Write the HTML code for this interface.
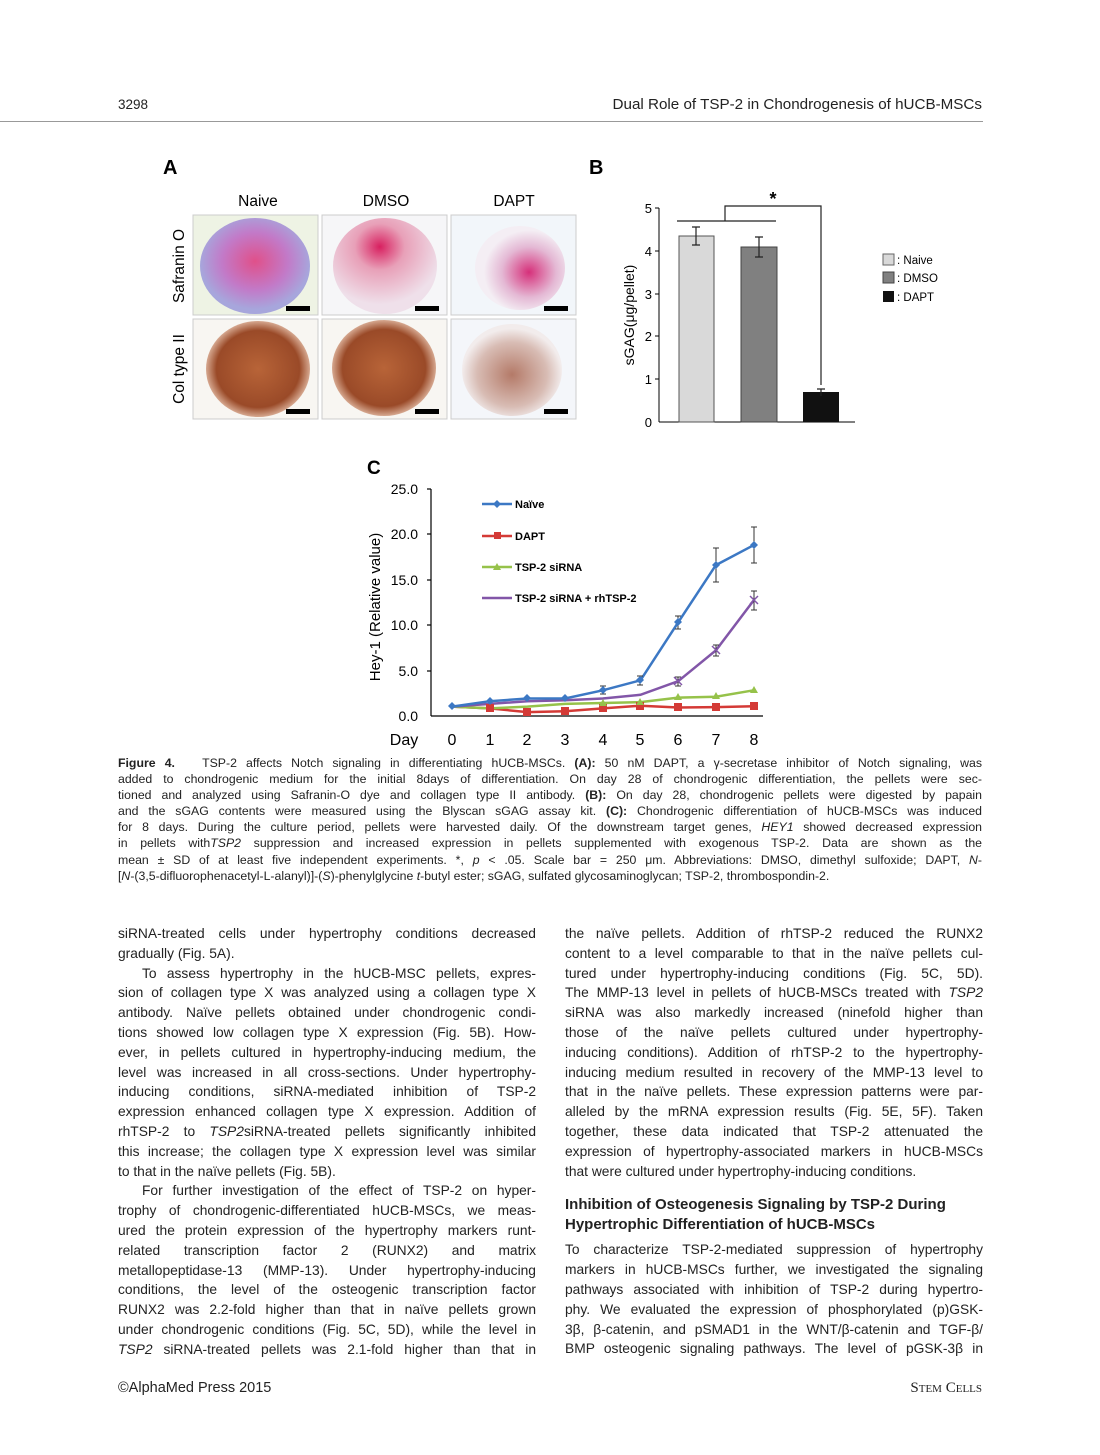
<!DOCTYPE html>
<html><head><meta charset="utf-8"><style>
body{margin:0;background:#fff;}
#p{position:relative;width:1100px;height:1455px;overflow:hidden;font-family:"Liberation Sans",sans-serif;color:#222;}
.t{position:absolute;white-space:nowrap;}
.cap{position:absolute;left:118px;width:864px;font-size:12.3px;line-height:16.1px;top:755px;}
.cap div,.col div{text-align:justify;text-align-last:justify;white-space:nowrap;}
.cap div.l,.col div.l{text-align-last:left;}
.col{position:absolute;width:418px;font-size:13.8px;line-height:19.8px;}
.col div.i{padding-left:24px;}
.h{font-weight:bold;font-size:15px;line-height:20px;}
</style></head><body><div id="p">
<div class="t" style="left:118px;top:97px;font-size:13.5px">3298</div>
<div class="t" style="right:118px;top:96px;font-size:15.2px">Dual Role of TSP-2 in Chondrogenesis of hUCB-MSCs</div>
<div style="position:absolute;left:0;top:121px;width:983px;height:1px;background:#999"></div>

<svg style="position:absolute;left:0;top:0" width="1100" height="760" font-family="Liberation Sans,sans-serif">
<defs>
<radialGradient id="saf1" cx="50%" cy="45%" r="50%"><stop offset="0" stop-color="#e0508a"/><stop offset="0.6" stop-color="#c27ac8"/><stop offset="1" stop-color="#a7a6dc"/></radialGradient>
<radialGradient id="saf2" cx="45%" cy="30%" r="60%"><stop offset="0" stop-color="#d82060"/><stop offset="0.4" stop-color="#e8a0b8"/><stop offset="1" stop-color="#efe0ea"/></radialGradient>
<radialGradient id="saf3" cx="60%" cy="55%" r="50%"><stop offset="0" stop-color="#d6307a"/><stop offset="0.6" stop-color="#e4b8d4"/><stop offset="1" stop-color="#f4eef4"/></radialGradient>
<radialGradient id="col1" cx="50%" cy="50%" r="50%"><stop offset="0" stop-color="#b86438"/><stop offset="0.8" stop-color="#9a4a28"/><stop offset="1" stop-color="#d6a890"/></radialGradient>
<radialGradient id="col3" cx="50%" cy="55%" r="50%"><stop offset="0" stop-color="#b47a68"/><stop offset="0.7" stop-color="#d8bcb4"/><stop offset="1" stop-color="#f2ecec"/></radialGradient>
</defs>
<text x="163" y="174" font-size="20" font-weight="bold">A</text>
<text x="589" y="174" font-size="20" font-weight="bold">B</text>
<text x="258" y="206" font-size="15.5" text-anchor="middle">Naive</text>
<text x="386" y="206" font-size="15.5" text-anchor="middle">DMSO</text>
<text x="514" y="206" font-size="15.5" text-anchor="middle">DAPT</text>
<text transform="translate(184,266) rotate(-90)" font-size="15.5" text-anchor="middle">Safranin O</text>
<text transform="translate(184,369) rotate(-90)" font-size="15.5" text-anchor="middle">Col type II</text>
<rect x="193" y="215" width="125" height="100" fill="#eef3e4" stroke="#ccc"/>
<rect x="322" y="215" width="125" height="100" fill="#f6f6f8" stroke="#ccc"/>
<rect x="451" y="215" width="125" height="100" fill="#f2f6fa" stroke="#ccc"/>
<rect x="193" y="319" width="125" height="100" fill="#f8f6f2" stroke="#ccc"/>
<rect x="322" y="319" width="125" height="100" fill="#f8f6f2" stroke="#ccc"/>
<rect x="451" y="319" width="125" height="100" fill="#f4f6fa" stroke="#ccc"/>
<ellipse cx="255" cy="266" rx="55" ry="48" fill="url(#saf1)"/>
<ellipse cx="385" cy="266" rx="52" ry="48" fill="url(#saf2)"/>
<ellipse cx="520" cy="268" rx="45" ry="42" fill="url(#saf3)"/>
<ellipse cx="258" cy="369" rx="52" ry="48" fill="url(#col1)"/>
<ellipse cx="384" cy="368" rx="52" ry="48" fill="url(#col1)"/>
<ellipse cx="512" cy="370" rx="50" ry="46" fill="url(#col3)"/>
<g fill="#000"><rect x="286" y="306" width="24" height="5"/><rect x="415" y="306" width="24" height="5"/><rect x="544" y="306" width="24" height="5"/>
<rect x="286" y="409" width="24" height="5"/><rect x="415" y="409" width="24" height="5"/><rect x="544" y="409" width="24" height="5"/></g>
<g font-size="13" text-anchor="end"><text x="652" y="213">5</text><text x="652" y="256">4</text><text x="652" y="299">3</text><text x="652" y="341">2</text><text x="652" y="384">1</text><text x="652" y="427">0</text></g>
<text transform="translate(634,315) rotate(-90)" font-size="14" text-anchor="middle">sGAG(μg/pellet)</text>
<g stroke="#000" stroke-width="1"><line x1="659" y1="208" x2="659" y2="422"/><line x1="659" y1="422" x2="855" y2="422"/>
<line x1="655" y1="208" x2="659" y2="208"/><line x1="655" y1="251" x2="659" y2="251"/><line x1="655" y1="294" x2="659" y2="294"/><line x1="655" y1="336" x2="659" y2="336"/><line x1="655" y1="379" x2="659" y2="379"/></g>
<rect x="679" y="236" width="35" height="186" fill="#d9d9d9" stroke="#555"/>
<rect x="741" y="247" width="36" height="175" fill="#808080" stroke="#444"/>
<rect x="803" y="392" width="36" height="30" fill="#111"/>
<g stroke="#222" stroke-width="1.2" fill="none"><path d="M696 227V245M692 227h8M692 245h8"/><path d="M759 237V257M755 237h8M755 257h8"/><path d="M821 389V396M817 389h8"/>
<path d="M677 221H776M725 221V206H821V385"/></g>
<text x="773" y="205" font-size="18" font-weight="bold" text-anchor="middle">*</text>
<g font-size="11.5"><rect x="883" y="254" width="11" height="11" fill="#d9d9d9" stroke="#666"/><text x="897" y="264">: Naive</text>
<rect x="883" y="272" width="11" height="11" fill="#808080" stroke="#444"/><text x="897" y="282">: DMSO</text>
<rect x="883" y="291" width="11" height="11" fill="#111"/><text x="897" y="301">: DAPT</text></g>
<text x="367" y="474" font-size="19" font-weight="bold">C</text>
<g font-size="14" text-anchor="end"><text x="418" y="494">25.0</text><text x="418" y="539">20.0</text><text x="418" y="585">15.0</text><text x="418" y="630">10.0</text><text x="418" y="676">5.0</text><text x="418" y="721">0.0</text></g>
<text transform="translate(380,607) rotate(-90)" font-size="15" text-anchor="middle">Hey-1 (Relative value)</text>
<g stroke="#000" stroke-width="1.2"><line x1="431" y1="489" x2="431" y2="716"/><line x1="431" y1="716" x2="763" y2="716"/>
<line x1="427" y1="489" x2="431" y2="489"/><line x1="427" y1="534" x2="431" y2="534"/><line x1="427" y1="580" x2="431" y2="580"/><line x1="427" y1="625" x2="431" y2="625"/><line x1="427" y1="671" x2="431" y2="671"/></g>
<g font-size="16" text-anchor="middle"><text x="404" y="745">Day</text><text x="452" y="745">0</text><text x="490" y="745">1</text><text x="527" y="745">2</text><text x="565" y="745">3</text><text x="603" y="745">4</text><text x="640" y="745">5</text><text x="678" y="745">6</text><text x="716" y="745">7</text><text x="754" y="745">8</text></g>
<g fill="none" stroke-width="2.5">
<polyline stroke="#d43a36" points="452,706.6 489.7,708.4 527.4,712.1 565.1,711.2 602.8,708.4 640.5,705.7 678.2,707.5 715.9,707.1 753.6,706.2"/>
<polyline stroke="#96c24a" points="452,706.6 489.7,708.4 527.4,706.6 565.1,703.9 602.8,703 640.5,702.1 678.2,697.6 715.9,696.7 753.6,690.3"/>
<polyline stroke="#8256a8" points="452,706.6 489.7,703.9 527.4,701.2 565.1,700.3 602.8,698.5 640.5,694.8 678.2,681.2 715.9,650.4 753.6,600.5"/>
<polyline stroke="#3c78c4" points="452,706.6 489.7,701.2 527.4,698.5 565.1,698.5 602.8,690.3 640.5,680.3 678.2,622.3 715.9,565.1 753.6,545.2"/>
</g>
<g stroke="#333" stroke-width="1"><path d="M678 616V629M675 616h6M675 629h6M716 548V582M713 548h6M713 582h6M754 527V563M751 527h6M751 563h6M754 591V610M751 591h6M751 610h6M716 645V656M713 645h6M713 656h6M640 676V685M637 676h6M637 685h6M603 686V694M600 686h6M600 694h6M678 677V686M675 677h6M675 686h6"/></g>
<g fill="#d43a36"><rect x="523" y="708" width="8" height="8"/><rect x="561" y="707" width="8" height="8"/><rect x="599" y="704" width="8" height="8"/><rect x="636" y="702" width="8" height="8"/><rect x="674" y="703" width="8" height="8"/><rect x="712" y="703" width="8" height="8"/><rect x="750" y="702" width="8" height="8"/><rect x="486" y="704" width="8" height="8"/></g>
<g fill="#96c24a"><path d="M678 693l4 7h-8zM716 692l4 7h-8zM754 686l4 7h-8zM640 698l4 7h-8zM603 699l4 7h-8z"/></g>
<g fill="#3c78c4"><path d="M678 618l4 4-4 4-4-4zM716 561l4 4-4 4-4-4zM754 541l4 4-4 4-4-4zM640 676l4 4-4 4-4-4zM603 686l4 4-4 4-4-4zM490 697l4 4-4 4-4-4zM527 694l4 4-4 4-4-4zM565 694l4 4-4 4-4-4zM452 702l4 4-4 4-4-4z"/></g>
<g stroke="#8256a8" stroke-width="1.5"><path d="M750 596l8 8M758 596l-8 8M712 646l8 8M720 646l-8 8M674 677l8 8M682 677l-8 8"/></g>
<g stroke-width="2.5"><line x1="482" y1="504" x2="512" y2="504" stroke="#3c78c4"/><line x1="482" y1="536" x2="512" y2="536" stroke="#d43a36"/><line x1="482" y1="567" x2="512" y2="567" stroke="#96c24a"/><line x1="482" y1="598" x2="512" y2="598" stroke="#8256a8"/></g>
<rect x="494" y="532" width="7" height="7" fill="#d43a36"/><path d="M497 563l4 7h-8z" fill="#96c24a"/><path d="M497 500l4 4-4 4-4-4z" fill="#3c78c4"/>
<g font-size="11" font-weight="bold"><text x="515" y="508">Naïve</text><text x="515" y="540">DAPT</text><text x="515" y="571">TSP-2 siRNA</text><text x="515" y="602">TSP-2 siRNA + rhTSP-2</text></g>
</svg>

<div class="cap">
<div><b>Figure 4.</b>&nbsp;&nbsp; TSP-2 affects Notch signaling in differentiating hUCB-MSCs. <b>(A):</b> 50 nM DAPT, a γ-secretase inhibitor of Notch signaling, was</div>
<div>added to chondrogenic medium for the initial 8days of differentiation. On day 28 of chondrogenic differentiation, the pellets were sec-</div>
<div>tioned and analyzed using Safranin-O dye and collagen type II antibody. <b>(B):</b> On day 28, chondrogenic pellets were digested by papain</div>
<div>and the sGAG contents were measured using the Blyscan sGAG assay kit. <b>(C):</b> Chondrogenic differentiation of hUCB-MSCs was induced</div>
<div>for 8 days. During the culture period, pellets were harvested daily. Of the downstream target genes, <i>HEY1</i> showed decreased expression</div>
<div>in pellets with<i>TSP2</i> suppression and increased expression in pellets supplemented with exogenous TSP-2. Data are shown as the</div>
<div>mean ± SD of at least five independent experiments. *, <i>p</i> &lt; .05. Scale bar = 250 μm. Abbreviations: DMSO, dimethyl sulfoxide; DAPT, <i>N</i>-</div>
<div class="l">[<i>N</i>-(3,5-difluorophenacetyl-L-alanyl)]-(<i>S</i>)-phenylglycine <i>t</i>-butyl ester; sGAG, sulfated glycosaminoglycan; TSP-2, thrombospondin-2.</div>
</div>

<div class="col" style="left:118px;top:924px">
<div>siRNA-treated cells under hypertrophy conditions decreased</div>
<div class="l">gradually (Fig. 5A).</div>
<div class="i">To assess hypertrophy in the hUCB-MSC pellets, expres-</div>
<div>sion of collagen type X was analyzed using a collagen type X</div>
<div>antibody. Naïve pellets obtained under chondrogenic condi-</div>
<div>tions showed low collagen type X expression (Fig. 5B). How-</div>
<div>ever, in pellets cultured in hypertrophy-inducing medium, the</div>
<div>level was increased in all cross-sections. Under hypertrophy-</div>
<div>inducing conditions, siRNA-mediated inhibition of TSP-2</div>
<div>expression enhanced collagen type X expression. Addition of</div>
<div>rhTSP-2 to <i>TSP2</i>siRNA-treated pellets significantly inhibited</div>
<div>this increase; the collagen type X expression level was similar</div>
<div class="l">to that in the naïve pellets (Fig. 5B).</div>
<div class="i">For further investigation of the effect of TSP-2 on hyper-</div>
<div>trophy of chondrogenic-differentiated hUCB-MSCs, we meas-</div>
<div>ured the protein expression of the hypertrophy markers runt-</div>
<div>related transcription factor 2 (RUNX2) and matrix</div>
<div>metallopeptidase-13 (MMP-13). Under hypertrophy-inducing</div>
<div>conditions, the level of the osteogenic transcription factor</div>
<div>RUNX2 was 2.2-fold higher than that in naïve pellets grown</div>
<div>under chondrogenic conditions (Fig. 5C, 5D), while the level in</div>
<div><i>TSP2</i> siRNA-treated pellets was 2.1-fold higher than that in</div>
</div>
<div class="col" style="left:565px;top:924px">
<div>the naïve pellets. Addition of rhTSP-2 reduced the RUNX2</div>
<div>content to a level comparable to that in the naïve pellets cul-</div>
<div>tured under hypertrophy-inducing conditions (Fig. 5C, 5D).</div>
<div>The MMP-13 level in pellets of hUCB-MSCs treated with <i>TSP2</i></div>
<div>siRNA was also markedly increased (ninefold higher than</div>
<div>those of the naïve pellets cultured under hypertrophy-</div>
<div>inducing conditions). Addition of rhTSP-2 to the hypertrophy-</div>
<div>inducing medium resulted in recovery of the MMP-13 level to</div>
<div>that in the naïve pellets. These expression patterns were par-</div>
<div>alleled by the mRNA expression results (Fig. 5E, 5F). Taken</div>
<div>together, these data indicated that TSP-2 attenuated the</div>
<div>expression of hypertrophy-associated markers in hUCB-MSCs</div>
<div class="l">that were cultured under hypertrophy-inducing conditions.</div>
<div class="h l" style="margin-top:14px">Inhibition of Osteogenesis Signaling by TSP-2 During</div>
<div class="h l">Hypertrophic Differentiation of hUCB-MSCs</div>
<div style="margin-top:5px">To characterize TSP-2-mediated suppression of hypertrophy</div>
<div>markers in hUCB-MSCs further, we investigated the signaling</div>
<div>pathways associated with inhibition of TSP-2 during hypertro-</div>
<div>phy. We evaluated the expression of phosphorylated (p)GSK-</div>
<div>3β, β-catenin, and pSMAD1 in the WNT/β-catenin and TGF-β/</div>
<div>BMP osteogenic signaling pathways. The level of pGSK-3β in</div>
</div>

<div class="t" style="left:118px;top:1380px;font-size:14.5px">©AlphaMed Press 2015</div>
<div class="t" style="right:118px;top:1380px;font-size:15px;font-family:'Liberation Serif',serif;font-variant:small-caps">Stem Cells</div>
</div></body></html>
